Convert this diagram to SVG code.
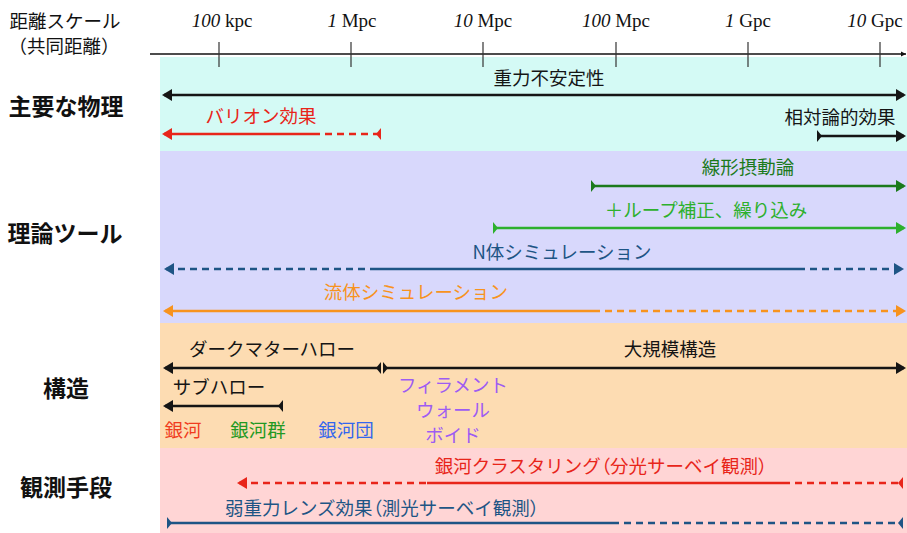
<svg xmlns="http://www.w3.org/2000/svg" width="907" height="533" viewBox="0 0 907 533">
<style>
.jp{font-family:"Noto Sans CJK JP","Noto Sans",sans-serif;font-size:18.5px;text-anchor:middle;dominant-baseline:central}
.hd{font-family:"Noto Sans CJK JP","Noto Sans",sans-serif;font-size:23px;font-weight:bold;text-anchor:middle;dominant-baseline:central;fill:#111}
.ax{font-family:"Liberation Serif",serif;font-size:19px;text-anchor:middle;fill:#111}
.p{font-feature-settings:"palt"}
.tick{stroke:#333;stroke-width:1.2}
.ln{fill:none;stroke-width:2.4}
.ds{stroke-dasharray:7 5}
.k{stroke:#151515}.r{stroke:#E8251A}.dg{stroke:#1B7A1B}.g{stroke:#2DB02D}.b{stroke:#1E5585}.o{stroke:#F7931E}
</style>
<defs>
<marker id="headK" markerUnits="userSpaceOnUse" markerWidth="12" markerHeight="14" refX="8" refY="7" orient="auto-start-reverse"><path d="M0,1 L10,7 L0,13 Z" fill="#151515"/></marker>
<marker id="headR" markerUnits="userSpaceOnUse" markerWidth="12" markerHeight="14" refX="8" refY="7" orient="auto-start-reverse"><path d="M0,1 L10,7 L0,13 Z" fill="#E8251A"/></marker>
<marker id="headDG" markerUnits="userSpaceOnUse" markerWidth="12" markerHeight="14" refX="8" refY="7" orient="auto-start-reverse"><path d="M0,1 L10,7 L0,13 Z" fill="#1B7A1B"/></marker>
<marker id="headG" markerUnits="userSpaceOnUse" markerWidth="12" markerHeight="14" refX="8" refY="7" orient="auto-start-reverse"><path d="M0,1 L10,7 L0,13 Z" fill="#2DB02D"/></marker>
<marker id="headB" markerUnits="userSpaceOnUse" markerWidth="12" markerHeight="14" refX="8" refY="7" orient="auto-start-reverse"><path d="M0,1 L10,7 L0,13 Z" fill="#1E5585"/></marker>
<marker id="headO" markerUnits="userSpaceOnUse" markerWidth="12" markerHeight="14" refX="8" refY="7" orient="auto-start-reverse"><path d="M0,1 L10,7 L0,13 Z" fill="#F7931E"/></marker>
<marker id="tailSK" markerUnits="userSpaceOnUse" markerWidth="7" markerHeight="14" refX="0" refY="7" orient="auto"><path d="M0,1 L5,7 L0,13 Z" fill="#151515"/></marker>
<marker id="tailEK" markerUnits="userSpaceOnUse" markerWidth="7" markerHeight="14" refX="5" refY="7" orient="auto"><path d="M5,1 L0,7 L5,13 Z" fill="#151515"/></marker>
<marker id="tailER" markerUnits="userSpaceOnUse" markerWidth="7" markerHeight="14" refX="5" refY="7" orient="auto"><path d="M5,1 L0,7 L5,13 Z" fill="#E8251A"/></marker>
<marker id="tailSDG" markerUnits="userSpaceOnUse" markerWidth="7" markerHeight="14" refX="0" refY="7" orient="auto"><path d="M0,1 L5,7 L0,13 Z" fill="#1B7A1B"/></marker>
<marker id="tailSG" markerUnits="userSpaceOnUse" markerWidth="7" markerHeight="14" refX="0" refY="7" orient="auto"><path d="M0,1 L5,7 L0,13 Z" fill="#2DB02D"/></marker>
<marker id="tailSB" markerUnits="userSpaceOnUse" markerWidth="7" markerHeight="14" refX="0" refY="7" orient="auto"><path d="M0,1 L5,7 L0,13 Z" fill="#1E5585"/></marker>
<marker id="tailEB" markerUnits="userSpaceOnUse" markerWidth="7" markerHeight="14" refX="5" refY="7" orient="auto"><path d="M5,1 L0,7 L5,13 Z" fill="#1E5585"/></marker>
<marker id="axhead" markerUnits="userSpaceOnUse" markerWidth="6" markerHeight="6" refX="5" refY="3" orient="auto"><path d="M0,0.5 L5,3 L0,5.5 Z" fill="#111"/></marker>
</defs>
<rect width="907" height="533" fill="#fff"/>
<g id="bands">
<rect x="160" y="57" width="747" height="94" fill="#D4FAF5"/>
<rect x="160" y="151" width="747" height="172" fill="#D8D8FC"/>
<rect x="160" y="323" width="747" height="125" fill="#FDDCB2"/>
<rect x="160" y="448" width="747" height="85" fill="#FFD5D5"/>
</g>
<g id="axis">
<text class="jp" x="65" y="20" fill="#111">距離スケール</text>
<text class="jp" x="64" y="45" fill="#111">（共同距離）</text>
<line x1="150" y1="54" x2="906" y2="54" stroke="#111" stroke-width="1.3" marker-end="url(#axhead)"/>
<line class="tick" x1="219" y1="42" x2="219" y2="67"/>
<line class="tick" x1="351" y1="42" x2="351" y2="67"/>
<line class="tick" x1="483" y1="42" x2="483" y2="67"/>
<line class="tick" x1="616" y1="42" x2="616" y2="67"/>
<line class="tick" x1="748" y1="42" x2="748" y2="67"/>
<line class="tick" x1="880" y1="42" x2="880" y2="67"/>
<text class="ax" x="222" y="27"><tspan font-style="italic">100</tspan> kpc</text>
<text class="ax" x="352" y="27"><tspan font-style="italic">1</tspan> Mpc</text>
<text class="ax" x="483" y="27"><tspan font-style="italic">10</tspan> Mpc</text>
<text class="ax" x="616" y="27"><tspan font-style="italic">100</tspan> Mpc</text>
<text class="ax" x="748" y="27"><tspan font-style="italic">1</tspan> Gpc</text>
<text class="ax" x="875" y="27"><tspan font-style="italic">10</tspan> Gpc</text>
</g>
<g id="categories">
<text class="hd" x="66" y="105">主要な物理</text>
<text class="hd" x="65" y="232">理論ツール</text>
<text class="hd" x="66" y="387">構造</text>
<text class="hd" x="66" y="486">観測手段</text>
</g>
<g id="labels">
<text id="grav" class="jp" x="549" y="77" fill="#151515">重力不安定性</text>
<text id="baryon" class="jp" x="261" y="115" fill="#E8251A">バリオン効果</text>
<text id="rel" class="jp" x="840" y="116" fill="#151515">相対論的効果</text>
<text id="linear" class="jp" x="748" y="166" fill="#1B7A1B">線形摂動論</text>
<text id="loop" class="jp" x="706" y="209" fill="#2DB02D">＋ループ補正、繰り込み</text>
<text id="nbody" class="jp" x="562" y="251" fill="#1E5585">N体シミュレーション</text>
<text id="fluid" class="jp" x="416" y="291" fill="#F7931E">流体シミュレーション</text>
<text id="dmhalo" class="jp" x="272" y="348" fill="#151515">ダークマターハロー</text>
<text id="lss" class="jp" x="670" y="348" fill="#151515">大規模構造</text>
<text id="subhalo" class="jp" x="219" y="386" fill="#151515">サブハロー</text>
<text id="galaxy" class="jp" x="183" y="429" fill="#F03C1E">銀河</text>
<text id="group" class="jp" x="258" y="429" fill="#229922">銀河群</text>
<text id="cluster" class="jp" x="346" y="429" fill="#3366EE">銀河団</text>
<text id="filament" class="jp" x="453" y="384" fill="#9D5CF2">フィラメント</text>
<text id="wall" class="jp" x="453" y="409" fill="#9D5CF2">ウォール</text>
<text id="void" class="jp" x="453" y="434" fill="#9D5CF2">ボイド</text>
<text id="clustering" class="jp" x="601" y="465" fill="#E8251A">銀河クラスタリング<tspan class="p">（</tspan>分光サーベイ観測<tspan class="p">）</tspan></text>
<text id="lensing" class="jp" x="382" y="507" fill="#1E5585">弱重力レンズ効果<tspan class="p">（</tspan>測光サーベイ観測<tspan class="p">）</tspan></text>
</g>
<g id="connectors">
<path class="ln k" d="M164,95 H904" marker-start="url(#headK)" marker-end="url(#headK)"/>
<path class="ln r" d="M164,134 H313" marker-start="url(#headR)"/>
<path class="ln r ds" d="M313,134 H381" marker-end="url(#tailER)"/>
<path class="ln k" d="M817,136 H904" marker-start="url(#tailSK)" marker-end="url(#headK)"/>
<path class="ln dg" d="M591,186 H904" marker-start="url(#tailSDG)" marker-end="url(#headDG)"/>
<path class="ln g" d="M493,228 H904" marker-start="url(#tailSG)" marker-end="url(#headG)"/>
<path class="ln b ds" d="M166,269 H377" marker-start="url(#headB)"/>
<path class="ln b" d="M377,269 H805"/>
<path class="ln b ds" d="M810,269 H902" marker-end="url(#headB)"/>
<path class="ln o" d="M165,311 H593" marker-start="url(#headO)"/>
<path class="ln o ds" d="M593,311 H904" marker-end="url(#headO)"/>
<path class="ln k" d="M165,368 H381" marker-start="url(#headK)" marker-end="url(#tailEK)"/>
<path class="ln k" d="M383,368 H904" marker-start="url(#tailSK)" marker-end="url(#headK)"/>
<path class="ln k" d="M165,406 H283" marker-start="url(#headK)" marker-end="url(#tailEK)"/>
<path class="ln r ds" d="M239,483 H427" marker-start="url(#headR)"/>
<path class="ln r" d="M427,483 H790"/>
<path class="ln r ds" d="M795,483 H903" marker-end="url(#tailER)"/>
<path class="ln b" d="M167,523 H612" marker-start="url(#tailSB)"/>
<path class="ln b ds" d="M612,523 H903" marker-end="url(#tailEB)"/>
</g>
</svg>
